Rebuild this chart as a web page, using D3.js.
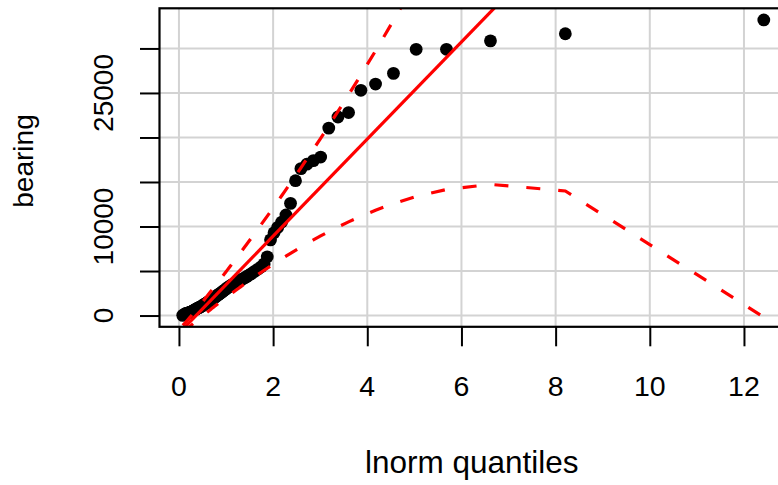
<!DOCTYPE html>
<html>
<head>
<meta charset="utf-8">
<script src="https://cdn.jsdelivr.net/npm/d3@7"></script>
<style>
  html, body { margin: 0; padding: 0; background: #ffffff; }
  svg { display: block; }
  text { font-family: "Liberation Sans", Arial, Helvetica, sans-serif; fill: #000; }
</style>
</head>
<body>
<div id="chart"></div>
<script>
// ---- data ----
// theoretical lognormal quantiles (x)
const quantiles = [
  0.0805, 0.1219, 0.1512, 0.1760, 0.1985, 0.2195, 0.2395, 0.2588, 0.2776, 0.2961,
  0.3143, 0.3323, 0.3502, 0.3681, 0.3860, 0.4040, 0.4220, 0.4401, 0.4583, 0.4767,
  0.4953, 0.5141, 0.5332, 0.5525, 0.5720, 0.5919, 0.6121, 0.6326, 0.6535, 0.6748,
  0.6966, 0.7187, 0.7413, 0.7645, 0.7881, 0.8123, 0.8370, 0.8624, 0.8885, 0.9152,
  0.9427, 0.9709, 1.0000, 1.0299, 1.0608, 1.0926, 1.1255, 1.1595, 1.1947, 1.2311,
  1.2689, 1.3081, 1.3489, 1.3914, 1.4357, 1.4819, 1.5301, 1.5807, 1.6337, 1.6895,
  1.7482, 1.8101, 1.8756, 1.9450, 2.0188, 2.0976, 2.1819, 2.2724, 2.3698, 2.4754,
  2.5905, 2.7164, 2.8552, 3.0094, 3.1819, 3.3777, 3.6022, 3.8640, 4.1755, 4.5560,
  5.0381, 5.6817, 6.6160, 8.2060, 12.4211
];
// sorted observed values (y)
const bearing = [
  20, 170, 230, 280, 310, 340, 370, 420, 470, 520,
  580, 630, 680, 730, 790, 840, 890, 940, 980, 1040,
  1100, 1160, 1230, 1290, 1350, 1420, 1490, 1560, 1640, 1720,
  1800, 1890, 1970, 2050, 2140, 2250, 2340, 2440, 2540, 2650,
  2760, 2860, 2990, 3110, 3230, 3340, 3450, 3560, 3660, 3760,
  3870, 3980, 4100, 4230, 4370, 4520, 4680, 4860, 5050, 5250,
  5480, 5800, 6600, 8500, 9300, 9900, 10500, 11300, 12600, 15150,
  16500, 17000, 17400, 17800, 21050, 22300, 22800, 25300, 26000, 27200,
  29900, 29900, 30850, 31650, 33200
];
// confidence envelope
const envUpper = [
  -1117, -892, -717, -564, -424, -291, -164, -40, 81, 200,
  318, 434, 551, 668, 785, 903, 1021, 1140, 1261, 1382,
  1505, 1630, 1757, 1885, 2016, 2148, 2283, 2421, 2561, 2705,
  2851, 3000, 3153, 3310, 3470, 3635, 3804, 3977, 4155, 4338,
  4527, 4721, 4922, 5129, 5342, 5564, 5792, 6030, 6276, 6532,
  6797, 7074, 7363, 7665, 7980, 8310, 8657, 9021, 9404, 9809,
  10237, 10691, 11173, 11686, 12235, 12824, 13459, 14145, 14888, 15701,
  16594, 17580, 18677, 19911, 21308, 22918, 24793, 27023, 29735, 33139,
  37602, 43828, 53443, 71520, 131648
];
const envLower = [
  -1971, -1746, -1601, -1483, -1378, -1282, -1191, -1104, -1020, -937,
  -857, -777, -698, -620, -542, -464, -386, -308, -229, -150,
  -70, 10, 91, 173, 256, 340, 425, 511, 599, 688,
  778, 870, 964, 1060, 1157, 1256, 1358, 1461, 1567, 1675,
  1786, 1900, 2016, 2136, 2259, 2385, 2514, 2648, 2785, 2927,
  3073, 3224, 3380, 3541, 3708, 3882, 4062, 4249, 4444, 4647,
  4859, 5081, 5313, 5557, 5812, 6082, 6366, 6667, 6986, 7325,
  7687, 8074, 8490, 8937, 9421, 9947, 10519, 11144, 11828, 12573,
  13368, 14159, 14732, 13992, -175
];
// reference line (through quartiles)
const lineIntercept = -1983;
const lineSlope = 5452;

const xTicks = [0, 2, 4, 6, 8, 10, 12];
const xTickLabels = ["0", "2", "4", "6", "8", "10", "12"];
const yTicks = [0, 5000, 10000, 15000, 20000, 25000, 30000];
const yLabelTicks = [0, 10000, 25000];
const yLabelTexts = ["0", "10000", "25000"];
const xDomain = [-0.413, 12.914];
const yDomain = [-1265, 34508];
const xTitle = "lnorm quantiles";
const yTitle = "bearing";

// ---- layout ----
const W = 778, H = 485;
const L = 159.5, R = 787, T = 8.3, B = 326.8;

const svg = d3.select("#chart").append("svg")
  .attr("width", W).attr("height", H);

const x = d3.scaleLinear().domain(xDomain).range([L, R]);
const y = d3.scaleLinear().domain(yDomain).range([B, T]);

svg.append("defs").append("clipPath").attr("id", "clip")
  .append("rect").attr("x", L).attr("y", T).attr("width", R - L).attr("height", B - T);

// grid
const grid = svg.append("g").attr("clip-path", "url(#clip)");
grid.selectAll("line.vg").data(xTicks).enter().append("line")
  .attr("x1", d => x(d)).attr("x2", d => x(d))
  .attr("y1", T).attr("y2", B)
  .attr("stroke", "#d3d3d3").attr("stroke-width", 2);
grid.selectAll("line.hg").data(yTicks).enter().append("line")
  .attr("x1", L).attr("x2", R)
  .attr("y1", d => y(d)).attr("y2", d => y(d))
  .attr("stroke", "#d3d3d3").attr("stroke-width", 2);

// axes (ticks via d3 axis generators)
const xAxis = d3.axisBottom(x).tickValues(xTicks).tickSize(19.5).tickFormat("");
const gx = svg.append("g").attr("transform", `translate(0,${B})`).call(xAxis);
gx.select(".domain").remove();
gx.selectAll(".tick line").attr("stroke", "#000").attr("stroke-width", 2);

const yAxis = d3.axisLeft(y).tickValues(yTicks).tickSize(19.5).tickFormat("");
const gy = svg.append("g").attr("transform", `translate(${L},0)`).call(yAxis);
gy.select(".domain").remove();
gy.selectAll(".tick line").attr("stroke", "#000").attr("stroke-width", 2);

// tick labels
svg.selectAll("text.xl").data(xTicks).enter().append("text")
  .attr("x", d => x(d)).attr("y", 395.5)
  .attr("text-anchor", "middle").attr("font-size", 28.5)
  .text((d, i) => xTickLabels[i]);

svg.selectAll("text.yl").data(yLabelTicks).enter().append("text")
  .attr("transform", d => `translate(113,${y(d)}) rotate(-90)`)
  .attr("text-anchor", "middle").attr("font-size", 28)
  .text((d, i) => yLabelTexts[i]);

// axis titles
svg.append("text").attr("x", (L + R) / 2 - 1.5).attr("y", 473)
  .attr("text-anchor", "middle").attr("font-size", 31.5).text(xTitle);
svg.append("text").attr("transform", `translate(33,161) rotate(-90)`)
  .attr("text-anchor", "middle").attr("font-size", 28).text(yTitle);

// plot contents
const plot = svg.append("g").attr("clip-path", "url(#clip)");
const pts = quantiles.map((q, i) => ({ q, v: bearing[i] }));
plot.selectAll("circle").data(pts).enter().append("circle")
  .attr("cx", d => x(d.q)).attr("cy", d => y(d.v)).attr("r", 6.4)
  .attr("fill", "#000");

plot.append("line")
  .attr("x1", x(xDomain[0])).attr("y1", y(lineIntercept + lineSlope * xDomain[0]))
  .attr("x2", x(xDomain[1])).attr("y2", y(lineIntercept + lineSlope * xDomain[1]))
  .attr("stroke", "#ff0000").attr("stroke-width", 3.2);

const envLine = d3.line().x(d => x(d[0])).y(d => y(d[1]));
[envUpper, envLower].forEach(arr => {
  plot.append("path")
    .attr("d", envLine(quantiles.map((q, i) => [q, arr[i]])))
    .attr("fill", "none").attr("stroke", "#ff0000").attr("stroke-width", 3.2)
    .attr("stroke-dasharray", "14,18");
});

// box
svg.append("rect").attr("x", L).attr("y", T).attr("width", R - L).attr("height", B - T)
  .attr("fill", "none").attr("stroke", "#000").attr("stroke-width", 2.2);
</script>
</body>
</html>
